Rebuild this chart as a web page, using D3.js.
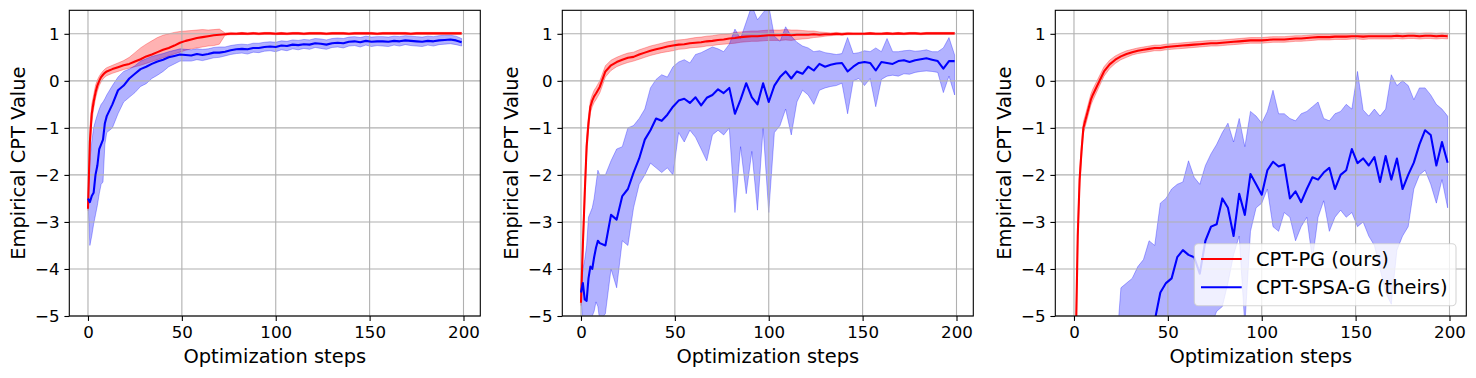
<!DOCTYPE html>
<meta charset="utf-8">
<style>
  body { margin: 0; background: #fff; }
  svg { display: block; font-family: "DejaVu Sans", sans-serif; }
  .grid line { stroke: #b0b0b0; stroke-width: 1.1; }
  .tick text { font-size: 16.67px; fill: #000; }
  .tick line { stroke: #000; stroke-width: 1.1; }
</style>
<svg width="1476" height="378"></svg>
<script src="https://d3js.org/d3.v7.min.js"></script>
<script>
// optimisation steps sampled from the figure
const steps = [0,1,2,3,4,5,6,7,8,9,10,
  13,16,19,22,25,28,31,34,37,40,
  43,46,49,52,55,58,61,64,67,70,
  73,76,79,82,85,88,91,94,97,100,
  103,106,109,112,115,118,121,124,127,130,
  133,136,139,142,145,148,151,154,157,160,
  163,166,169,172,175,178,181,184,187,190,
  193,196,199];

const xTicks = [0, 50, 100, 150, 200];
const yTicks = [-5, -4, -3, -2, -1, 0, 1];
const seriesNames = ["CPT-PG (ours)", "CPT-SPSA-G (theirs)"];

// panel 1
const p1Red = [-2.72,-1.3,-0.7,-0.45,-0.25,-0.1,0.0,0.08,0.13,0.17,0.2,
  0.25,0.29,0.33,0.36,0.41,0.46,0.52,0.56,0.61,0.66,
  0.7,0.75,0.81,0.85,0.88,0.91,0.93,0.95,0.97,0.98,
  0.99,1.0,1.0,1.01,1.0,1.01,1.0,1.01,1.01,1.0,
  1.01,1.0,1.01,1.01,1.0,1.01,1.01,1.01,1.0,1.01,
  1.01,1.01,1.0,1.01,1.01,1.01,1.01,1.0,1.01,1.01,
  1.01,1.01,1.01,1.0,1.01,1.01,1.01,1.01,1.01,1.01,
  1.01,1.01,1.01];
const p1RedLo = [-2.76,-1.6,-0.9,-0.6,-0.38,-0.22,-0.1,-0.02,0.04,0.08,0.11,
  0.16,0.2,0.24,0.27,0.3,0.33,0.37,0.41,0.45,0.49,
  0.53,0.57,0.61,0.65,0.68,0.7,0.72,0.74,0.75,0.78,
  0.97,0.98,0.98,0.99,0.98,0.99,0.98,0.99,0.99,0.98,
  0.99,0.98,0.99,0.99,0.98,0.99,0.99,0.99,0.98,0.99,
  0.99,0.99,0.98,0.99,0.99,0.99,0.99,0.98,0.99,0.99,
  0.99,0.99,0.99,0.98,0.99,0.99,0.99,0.99,0.99,0.99,
  0.99,0.99,0.99];
const p1RedHi = [-2.68,-1.0,-0.5,-0.3,-0.1,0.02,0.1,0.16,0.21,0.25,0.28,
  0.33,0.38,0.43,0.5,0.6,0.7,0.78,0.85,0.92,0.97,
  1.0,1.03,1.05,1.06,1.07,1.08,1.09,1.08,1.09,1.1,
  1.02,1.03,1.02,1.03,1.02,1.03,1.02,1.03,1.03,1.02,
  1.03,1.02,1.03,1.03,1.02,1.03,1.03,1.03,1.02,1.03,
  1.03,1.03,1.02,1.03,1.03,1.03,1.03,1.02,1.03,1.03,
  1.03,1.03,1.03,1.02,1.03,1.03,1.03,1.03,1.03,1.03,
  1.03,1.03,1.03];
const p1Blue = [-2.5,-2.58,-2.45,-2.38,-2.0,-1.8,-1.45,-1.35,-1.25,-0.9,-0.75,
  -0.5,-0.2,-0.1,0.05,0.15,0.25,0.3,0.36,0.41,0.45,
  0.5,0.53,0.56,0.55,0.54,0.57,0.55,0.57,0.6,0.6,
  0.62,0.65,0.67,0.68,0.67,0.7,0.7,0.72,0.73,0.72,
  0.75,0.74,0.77,0.76,0.78,0.77,0.8,0.79,0.77,0.8,
  0.81,0.8,0.83,0.84,0.82,0.85,0.83,0.84,0.84,0.83,
  0.85,0.84,0.86,0.85,0.84,0.83,0.85,0.84,0.86,0.87,
  0.88,0.86,0.82];
const p1BlueLo = [-2.55,-3.5,-3.3,-3.05,-2.85,-2.65,-2.4,-2.2,-2.15,-1.35,-1.1,
  -1.0,-0.7,-0.45,-0.35,-0.25,-0.12,-0.06,0.05,0.12,0.2,
  0.3,0.36,0.42,0.42,0.42,0.45,0.43,0.46,0.49,0.5,
  0.53,0.56,0.58,0.59,0.57,0.61,0.6,0.63,0.64,0.62,
  0.66,0.64,0.68,0.66,0.69,0.67,0.71,0.69,0.67,0.71,
  0.72,0.7,0.74,0.75,0.72,0.76,0.73,0.75,0.74,0.73,
  0.76,0.74,0.77,0.75,0.74,0.73,0.76,0.74,0.77,0.78,
  0.79,0.77,0.74];
const p1BlueHi = [-2.45,-1.7,-1.3,-1.0,-0.85,-0.72,-0.6,-0.5,-0.45,-0.38,-0.3,
  -0.1,0.08,0.2,0.25,0.32,0.42,0.47,0.52,0.55,0.58,
  0.62,0.65,0.68,0.67,0.66,0.68,0.67,0.68,0.71,0.72,
  0.72,0.75,0.77,0.78,0.77,0.8,0.8,0.82,0.83,0.82,
  0.85,0.84,0.87,0.86,0.88,0.87,0.9,0.89,0.87,0.9,
  0.91,0.9,0.93,0.94,0.92,0.95,0.93,0.94,0.94,0.93,
  0.95,0.94,0.96,0.95,0.94,0.93,0.95,0.94,0.96,0.97,
  0.97,0.95,0.9];

// panel 2
const p2Red = [-4.72,-3.5,-2.4,-1.4,-0.9,-0.55,-0.42,-0.33,-0.27,-0.2,-0.13,
  0.2,0.33,0.4,0.45,0.49,0.51,0.56,0.6,0.64,0.67,
  0.7,0.73,0.75,0.77,0.78,0.8,0.81,0.82,0.84,0.85,
  0.87,0.88,0.9,0.91,0.93,0.94,0.95,0.95,0.96,0.97,
  0.97,0.97,0.98,0.97,0.98,0.98,0.98,0.99,0.98,0.99,
  0.99,1.0,0.99,1.0,1.0,1.0,1.0,1.01,1.0,1.0,
  1.01,1.0,1.01,1.0,1.01,1.01,1.0,1.01,1.01,1.01,
  1.01,1.01,1.01];
const p2RedLo = [-4.78,-3.7,-2.6,-1.6,-1.05,-0.68,-0.55,-0.46,-0.4,-0.33,-0.26,
  0.08,0.22,0.3,0.35,0.39,0.42,0.46,0.5,0.54,0.57,
  0.6,0.62,0.64,0.67,0.68,0.7,0.71,0.72,0.74,0.75,
  0.77,0.78,0.79,0.8,0.82,0.83,0.84,0.84,0.85,0.86,
  0.86,0.86,0.87,0.86,0.88,0.89,0.9,0.92,0.93,0.95,
  0.96,0.97,0.97,0.98,0.98,0.98,0.98,0.99,0.98,0.98,
  0.99,0.98,0.99,0.98,0.99,0.99,0.98,0.99,0.99,0.99,
  0.99,0.99,0.99];
const p2RedHi = [-4.66,-3.3,-2.2,-1.2,-0.75,-0.42,-0.3,-0.2,-0.14,-0.07,0.0,
  0.32,0.44,0.5,0.55,0.59,0.61,0.66,0.7,0.74,0.77,
  0.8,0.83,0.85,0.87,0.88,0.9,0.92,0.93,0.95,0.96,
  0.98,0.99,1.0,1.03,1.04,1.05,1.06,1.06,1.07,1.08,
  1.08,1.08,1.09,1.08,1.08,1.07,1.06,1.06,1.04,1.03,
  1.02,1.03,1.02,1.03,1.02,1.02,1.02,1.03,1.02,1.02,
  1.03,1.02,1.03,1.02,1.03,1.03,1.02,1.03,1.03,1.03,
  1.03,1.03,1.03];
const p2Blue = [-4.5,-4.3,-4.65,-4.68,-4.2,-3.95,-4.0,-3.75,-3.55,-3.4,-3.45,
  -3.5,-2.85,-2.95,-2.45,-2.3,-1.95,-1.65,-1.25,-1.05,-0.8,
  -0.85,-0.72,-0.55,-0.42,-0.38,-0.47,-0.35,-0.52,-0.36,-0.3,
  -0.18,-0.26,-0.15,-0.7,-0.4,-0.05,-0.35,-0.5,-0.05,-0.45,
  -0.1,0.08,0.2,0.05,0.2,0.15,0.3,0.22,0.36,0.3,
  0.34,0.37,0.38,0.2,0.3,0.38,0.4,0.38,0.22,0.4,
  0.38,0.36,0.42,0.44,0.4,0.44,0.46,0.48,0.45,0.42,
  0.26,0.42,0.42];
const p2BlueLo = [-4.55,-5.3,-5.5,-5.6,-5.4,-5.2,-5.0,-4.9,-4.7,-4.8,-5.1,
  -4.95,-4.0,-4.4,-3.4,-3.5,-2.7,-2.2,-2.0,-1.75,-1.85,
  -1.95,-1.85,-2.0,-1.1,-1.3,-1.05,-1.2,-1.45,-1.7,-1.15,
  -1.05,-1.15,-1.0,-2.8,-1.4,-2.4,-1.5,-2.75,-1.0,-2.8,
  -1.1,-0.95,-0.6,-1.15,-0.45,-0.2,-0.3,-0.5,-0.2,-0.15,
  -0.12,-0.1,-0.05,-0.7,0.0,0.05,-0.1,0.05,-0.55,0.03,
  0.1,0.12,0.1,0.15,0.14,0.18,0.2,0.21,0.2,0.18,
  -0.25,0.1,-0.3];
const p2BlueHi = [-4.45,-4.0,-3.8,-3.5,-2.9,-2.8,-2.7,-2.5,-2.2,-1.9,-2.0,
  -2.0,-1.7,-1.45,-1.4,-1.0,-0.95,-0.8,-0.6,-0.15,0.03,
  0.13,0.08,0.3,0.4,0.45,0.38,0.56,0.6,0.66,0.72,
  0.68,0.62,0.78,1.1,0.9,1.25,1.6,1.3,1.45,1.6,
  0.95,0.84,1.15,0.95,0.82,0.74,0.7,0.62,0.64,0.6,
  0.58,0.56,0.58,0.92,0.58,0.6,0.64,0.62,0.7,0.62,
  0.9,0.62,0.62,0.64,0.65,0.63,0.64,0.66,0.62,0.62,
  0.7,0.92,0.55];

// panel 3
const p3Red = [-12,-5.5,-3.3,-2.1,-1.5,-1.0,-0.85,-0.7,-0.55,-0.4,-0.3,
  -0.05,0.2,0.35,0.45,0.52,0.57,0.61,0.64,0.66,0.68,
  0.7,0.7,0.72,0.73,0.74,0.75,0.76,0.77,0.78,0.79,
  0.8,0.8,0.81,0.82,0.83,0.84,0.85,0.86,0.86,0.86,
  0.87,0.88,0.88,0.88,0.89,0.9,0.9,0.91,0.92,0.93,
  0.93,0.93,0.94,0.94,0.94,0.95,0.95,0.94,0.95,0.95,
  0.95,0.95,0.95,0.96,0.95,0.96,0.96,0.95,0.96,0.96,
  0.95,0.96,0.95];
const p3RedLo = [-12.2,-5.8,-3.5,-2.3,-1.65,-1.13,-0.97,-0.82,-0.67,-0.52,-0.42,
  -0.16,0.1,0.26,0.37,0.45,0.5,0.55,0.58,0.6,0.62,
  0.64,0.64,0.66,0.67,0.68,0.69,0.7,0.71,0.72,0.73,
  0.74,0.74,0.75,0.76,0.77,0.78,0.79,0.8,0.8,0.8,
  0.81,0.82,0.82,0.82,0.83,0.84,0.84,0.85,0.86,0.87,
  0.87,0.87,0.88,0.88,0.88,0.89,0.89,0.88,0.89,0.89,
  0.89,0.89,0.89,0.9,0.89,0.9,0.9,0.89,0.9,0.9,
  0.89,0.9,0.89];
const p3RedHi = [-11.8,-5.2,-3.1,-1.9,-1.35,-0.87,-0.73,-0.58,-0.43,-0.28,-0.18,
  0.06,0.3,0.44,0.53,0.59,0.64,0.67,0.7,0.72,0.74,
  0.76,0.76,0.78,0.79,0.8,0.81,0.82,0.83,0.84,0.85,
  0.86,0.86,0.87,0.88,0.89,0.9,0.91,0.92,0.92,0.92,
  0.93,0.94,0.94,0.94,0.95,0.96,0.96,0.97,0.98,0.99,
  0.99,0.99,1.0,1.0,1.0,1.01,1.01,1.0,1.01,1.01,
  1.01,1.01,1.01,1.02,1.01,1.02,1.02,1.01,1.02,1.02,
  1.01,1.02,1.01];
const p3Blue = [-10.5,-10.2,-10,-9.8,-9.7,-9.5,-9.4,-9.2,-9.1,-9.0,-8.9,
  -8.5,-8.2,-7.9,-7.5,-7.1,-6.7,-6.3,-6.0,-5.7,-5.4,
  -5.1,-4.5,-4.3,-4.2,-3.75,-3.6,-3.7,-3.75,-4.1,-3.4,
  -3.1,-3.05,-2.5,-2.7,-3.3,-2.4,-2.85,-1.98,-2.2,-2.42,
  -1.9,-1.72,-1.82,-1.78,-2.5,-2.35,-2.58,-2.3,-2.05,-2.1,
  -1.95,-1.85,-2.3,-2.0,-1.9,-1.45,-1.75,-1.65,-1.8,-1.62,
  -2.15,-1.6,-2.1,-1.65,-2.3,-2.0,-1.74,-1.35,-1.05,-1.15,
  -1.8,-1.3,-1.74];
const p3BlueLo = [-12,-12,-11.8,-11.7,-11.6,-11.5,-11.4,-11.3,-11.2,-11.1,-11,
  -10.8,-10.6,-10.4,-10.2,-10,-9.8,-9.6,-9.4,-9.2,-9.0,
  -8.8,-8.4,-8.2,-8.0,-7.6,-7.4,-7.2,-7.0,-6.8,-6.4,
  -5.2,-4.9,-4.8,-4.3,-3.7,-3.3,-5.2,-3.2,-2.7,-2.6,
  -2.3,-3.1,-3.2,-2.8,-2.9,-3.4,-3.1,-2.9,-3.8,-2.9,
  -2.55,-3.2,-2.9,-2.75,-2.9,-2.8,-3.1,-3.0,-3.3,-3.5,
  -4.0,-4.5,-4.75,-3.6,-3.3,-3.1,-2.3,-2.0,-1.9,-2.2,
  -2.6,-2.1,-2.7];
const p3BlueHi = [-9.5,-9.3,-9.1,-9.0,-8.8,-8.7,-8.5,-8.4,-8.2,-8.1,-8.0,
  -7.5,-7.0,-6.5,-6.0,-4.4,-4.3,-4.2,-3.95,-3.8,-3.4,
  -3.5,-2.6,-2.5,-2.3,-2.2,-2.15,-1.7,-2.05,-2.2,-1.8,
  -1.55,-1.35,-1.1,-0.9,-1.3,-0.8,-1.4,-0.65,-0.75,-0.9,
  -0.65,-0.2,-0.7,-0.7,-0.8,-0.85,-0.7,-0.65,-0.55,-0.45,
  -0.8,-0.85,-0.7,-0.65,-0.5,-0.6,0.2,-0.62,-0.75,-0.6,
  -0.75,-0.6,0.13,-0.1,0.0,-0.1,-0.4,-0.15,-0.15,-0.3,
  -0.5,-0.6,-0.75];

const panels = [
  { left: 69.3, red: [p1Red, p1RedLo, p1RedHi], blue: [p1Blue, p1BlueLo, p1BlueHi] },
  { left: 562.3, red: [p2Red, p2RedLo, p2RedHi], blue: [p2Blue, p2BlueLo, p2BlueHi] },
  { left: 1055.3, red: [p3Red, p3RedLo, p3RedHi], blue: [p3Blue, p3BlueLo, p3BlueHi], legend: true }
];

const svg = d3.select("svg");
const plotTop = 10.3, w = 411, h = 305.7;

const x = d3.scaleLinear().domain([-9.95, 208.95]).range([0, w]);
const y = d3.scaleLinear().domain([-5, 1.5]).range([h, 0]);

panels.forEach((p, i) => {
  const g = svg.append("g").attr("transform", `translate(${p.left},${plotTop})`);

  g.append("clipPath").attr("id", "clip" + i)
    .append("rect").attr("width", w).attr("height", h);

  const plot = g.append("g").attr("clip-path", `url(#clip${i})`);

  const band = d3.area()
    .x((d, j) => x(steps[j]))
    .y0(d => y(d[0]))
    .y1(d => y(d[1]));
  const line = d3.line()
    .x((d, j) => x(steps[j]))
    .y(d => y(d));

  const series = [["red", p.red], ["blue", p.blue]];

  series.forEach(([col, s]) => {
    plot.append("path")
      .datum(s[1].map((v, j) => [v, s[2][j]]))
      .attr("d", band)
      .attr("fill", col).attr("fill-opacity", 0.3)
      .attr("stroke", col).attr("stroke-opacity", 0.3).attr("stroke-width", 1);
  });

  // grid
  const grid = g.append("g").attr("class", "grid");
  grid.selectAll(".gx").data(xTicks).enter().append("line")
    .attr("x1", d => x(d)).attr("x2", d => x(d)).attr("y1", 0).attr("y2", h);
  grid.selectAll(".gy").data(yTicks).enter().append("line")
    .attr("x1", 0).attr("x2", w).attr("y1", d => y(d)).attr("y2", d => y(d));

  const lines = g.append("g").attr("clip-path", `url(#clip${i})`);
  series.forEach(([col, s]) => {
    lines.append("path")
      .datum(s[0])
      .attr("d", line)
      .attr("fill", "none")
      .attr("stroke", col).attr("stroke-width", 2.08)
      .attr("stroke-linejoin", "round");
  });

  // frame
  g.append("rect").attr("width", w).attr("height", h)
    .attr("fill", "none").attr("stroke", "#000").attr("stroke-width", 1.1);

  const xa = g.append("g").attr("transform", `translate(0,${h})`)
    .call(d3.axisBottom(x).tickValues(xTicks).tickFormat(d3.format("d"))
      .tickSize(4.9).tickPadding(5.5));
  xa.select(".domain").remove();
  const ya = g.append("g")
    .call(d3.axisLeft(y).tickValues(yTicks).tickFormat(d3.format("d"))
      .tickSize(4.9).tickPadding(4.9));
  ya.select(".domain").remove();
  svg.selectAll(".tick text").attr("font-family", "DejaVu Sans");

  g.append("text")
    .attr("x", w / 2).attr("y", 363.5 - plotTop)
    .attr("text-anchor", "middle")
    .attr("font-size", "19.44px")
    .text("Optimization steps");

  g.append("text")
    .attr("transform", `translate(-44.8,${h / 2}) rotate(-90)`)
    .attr("text-anchor", "middle")
    .attr("font-size", "19.44px")
    .text("Empirical CPT Value");

  if (p.legend) {
    const lg = g.append("g").attr("transform", `translate(${1194.3 - p.left},${243.7 - plotTop})`);
    lg.append("rect").attr("width", 261.7).attr("height", 62)
      .attr("rx", 3.9).attr("ry", 3.9)
      .attr("fill", "#fff").attr("fill-opacity", 0.8)
      .attr("stroke", "#cccccc").attr("stroke-opacity", 0.8).attr("stroke-width", 1.1);
    ["red", "blue"].forEach((col, k) => {
      const yy = 15.3 + k * 28.3;
      lg.append("line").attr("x1", 6.7).attr("x2", 47.4).attr("y1", yy).attr("y2", yy)
        .attr("stroke", col).attr("stroke-width", 2.08);
      lg.append("text").attr("x", 61.7).attr("y", yy + 7.2)
        .attr("font-size", "19.44px").text(seriesNames[k]);
    });
  }
});
</script>
